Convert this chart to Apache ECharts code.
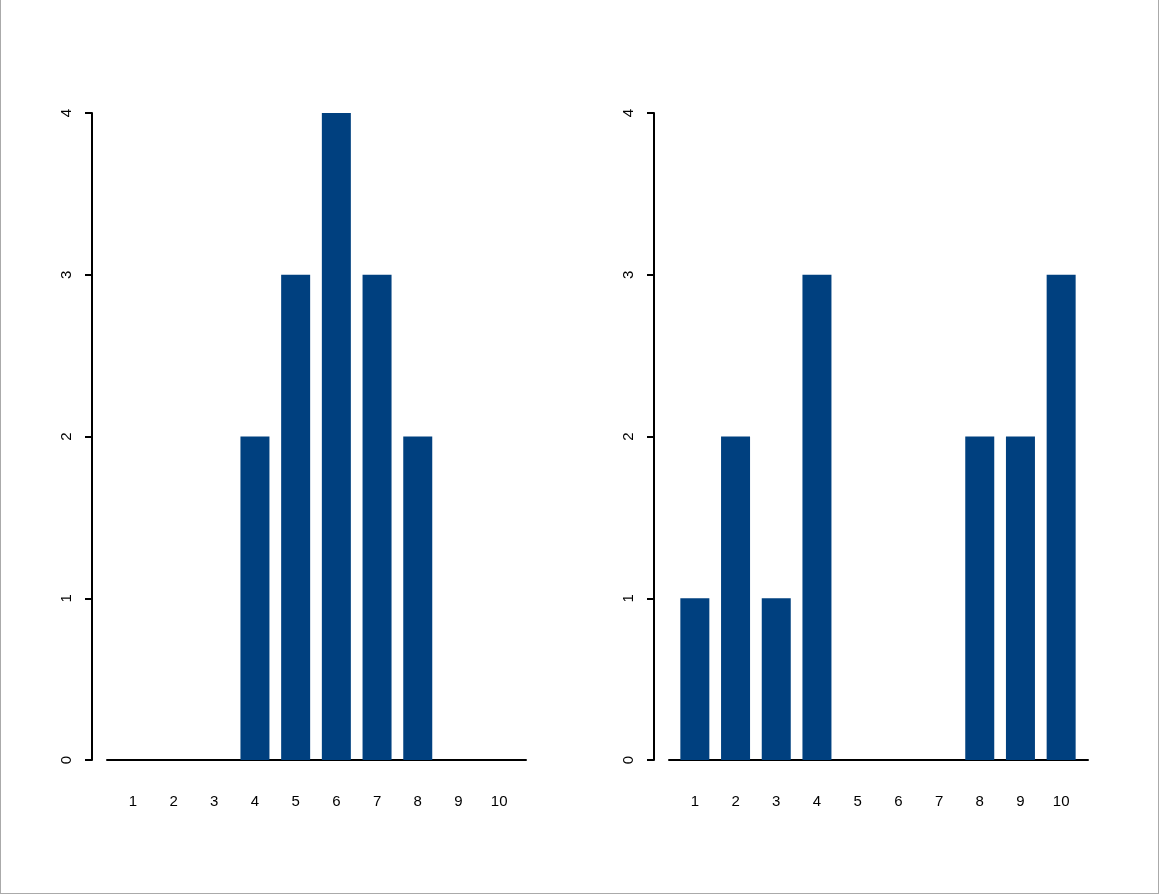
<!DOCTYPE html>
<html>
<head>
<meta charset="utf-8">
<script src="https://cdn.jsdelivr.net/npm/echarts@6/dist/echarts.min.js"></script>
<style>
html,body{margin:0;padding:0;background:#fff;}
#chart{width:1159px;height:894px;box-sizing:border-box;border-left:1px solid #aaa;border-right:1px solid #aaa;border-bottom:1px solid #aaa;}
</style>
</head>
<body>
<div id="chart"></div>
<script>
const categories = ['1','2','3','4','5','6','7','8','9','10'];
const leftValues = [0,0,0,2,3,4,3,2,0,0];
const rightValues = [1,2,1,3,0,0,0,2,2,3];
const yTicks = [0,1,2,3,4];

const barColor = '#00407f';
const font = "'Liberation Sans', Arial, Helvetica, sans-serif";

const chart = echarts.init(document.getElementById('chart'), null, {renderer:'canvas'});

function panel(offsetX){
  return [
    {left: 111.5 + offsetX, width: 407, top: 113, height: 647},
    {left: 106 + offsetX, width: 419, top: 113, height: 647}
  ];
}
const grids = panel(0).concat(panel(562));

function catAxis(gi){
  return {
    type:'category', gridIndex: gi, data: categories,
    axisLine:{show:false}, axisTick:{show:false}, splitLine:{show:false},
    axisLabel:{color:'#000', fontSize:15, fontFamily:font, margin:34, interval:0}
  };
}
function lineAxis(gi){
  return {
    type:'value', gridIndex: gi, min:0, max:1,
    axisLine:{show:true, onZero:false, lineStyle:{color:'#000', width:2}},
    axisTick:{show:false}, axisLabel:{show:false}, splitLine:{show:false}
  };
}
function valAxis(gi){
  return {
    type:'value', gridIndex: gi, min: yTicks[0], max: yTicks[yTicks.length-1], interval:1,
    offset: 20.5,
    axisLine:{show:true, lineStyle:{color:'#000', width:2}},
    axisTick:{show:true, length:7, lineStyle:{color:'#000', width:2}},
    axisLabel:{color:'#000', fontSize:15, fontFamily:font, rotate:90, margin:18},
    splitLine:{show:false}
  };
}
function hiddenY(gi){
  return {type:'value', gridIndex: gi, min:0, max:4, show:false};
}

const option = {
  animation:false,
  backgroundColor:'#fff',
  grid: grids,
  xAxis: [catAxis(0), lineAxis(1), catAxis(2), lineAxis(3)],
  yAxis: [valAxis(0), hiddenY(1), valAxis(2), hiddenY(3)],
  series: [
    {type:'bar', xAxisIndex:0, yAxisIndex:0, data:leftValues, barWidth:29, itemStyle:{color:barColor}},
    {type:'bar', xAxisIndex:2, yAxisIndex:2, data:rightValues, barWidth:29, itemStyle:{color:barColor}}
  ]
};
chart.setOption(option);
</script>
</body>
</html>
